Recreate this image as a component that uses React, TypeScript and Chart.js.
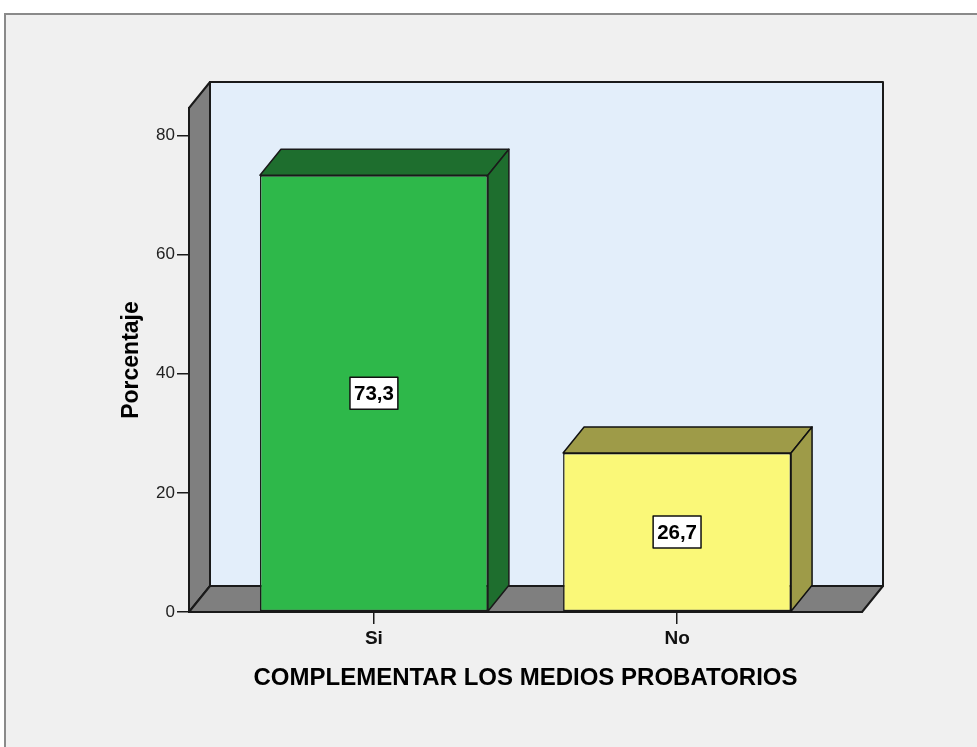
import React, { useEffect, useRef } from "react";
import { Chart, registerables } from "chart.js";

Chart.register(...registerables);

const categories = ["Si", "No"];
const values = [73.3, 26.7];
const yTicks = [0, 20, 40, 60, 80];
const yMax = 84.6;
const xMin = -0.61;
const xMax = 1.61;
const xTitle = "COMPLEMENTAR LOS MEDIOS PROBATORIOS";
const yTitle = "Porcentaje";

const frontColors = ["#2eb84a", "#faf878"];
const darkColors = ["#1e6e2e", "#9e9b48"];

const FONT = "'Liberation Sans', Arial, sans-serif";
const DX = 21;
const DY = -26;

function poly(ctx: CanvasRenderingContext2D, pts: number[][], fill: string) {
  ctx.beginPath();
  ctx.moveTo(pts[0][0], pts[0][1]);
  for (let i = 1; i < pts.length; i++) ctx.lineTo(pts[i][0], pts[i][1]);
  ctx.closePath();
  ctx.fillStyle = fill;
  ctx.fill();
  ctx.stroke();
}

const threeD = {
  id: "threeD",
  beforeDraw(chart: any) {
    const ctx = chart.ctx as CanvasRenderingContext2D;
    const w = chart.width;
    const h = chart.height;
    ctx.save();
    ctx.fillStyle = "#ffffff";
    ctx.fillRect(0, 0, w, h);
    ctx.fillStyle = "#f0f0f0";
    ctx.fillRect(5, 14, w - 5, h - 14);
    ctx.strokeStyle = "#8a8a8a";
    ctx.lineWidth = 2;
    ctx.beginPath();
    ctx.moveTo(5, h);
    ctx.lineTo(5, 14);
    ctx.lineTo(w, 14);
    ctx.stroke();
    ctx.restore();
  },
  beforeDatasetsDraw(chart: any) {
    const ctx = chart.ctx as CanvasRenderingContext2D;
    const { left, top, right, bottom } = chart.chartArea;
    ctx.save();
    ctx.strokeStyle = "#1a1a1a";
    ctx.lineWidth = 2;
    ctx.lineJoin = "round";
    // back wall
    poly(
      ctx,
      [
        [left + DX, top + DY],
        [right + DX, top + DY],
        [right + DX, bottom + DY],
        [left + DX, bottom + DY],
      ],
      "#e3eefa"
    );
    // left wall
    poly(
      ctx,
      [
        [left, top],
        [left + DX, top + DY],
        [left + DX, bottom + DY],
        [left, bottom],
      ],
      "#7f7f7f"
    );
    // floor
    poly(
      ctx,
      [
        [left, bottom],
        [left + DX, bottom + DY],
        [right + DX, bottom + DY],
        [right, bottom],
      ],
      "#7f7f7f"
    );
    ctx.restore();
  },
  afterDatasetsDraw(chart: any) {
    const ctx = chart.ctx as CanvasRenderingContext2D;
    const meta = chart.getDatasetMeta(0);
    ctx.save();
    ctx.strokeStyle = "#1a1a1a";
    ctx.lineWidth = 1.5;
    ctx.lineJoin = "round";
    meta.data.forEach((bar: any, i: number) => {
      const { x, y, base, width } = bar.getProps(["x", "y", "base", "width"], true);
      const x1 = x - width / 2;
      const x2 = x + width / 2;
      poly(
        ctx,
        [
          [x1, y],
          [x1 + DX, y + DY],
          [x2 + DX, y + DY],
          [x2, y],
        ],
        darkColors[i]
      );
      poly(
        ctx,
        [
          [x2, y],
          [x2 + DX, y + DY],
          [x2 + DX, base + DY],
          [x2, base],
        ],
        darkColors[i]
      );
      // value label
      const text = values[i].toFixed(1).replace(".", ",");
      ctx.font = `bold 20.5px ${FONT}`;
      const tw = ctx.measureText(text).width;
      const bw = tw + 8;
      const bh = 32;
      const cy = (y + base) / 2;
      ctx.fillStyle = "#ffffff";
      ctx.fillRect(x - bw / 2, cy - bh / 2, bw, bh);
      ctx.lineWidth = 1.5;
      ctx.strokeStyle = "#111111";
      ctx.strokeRect(x - bw / 2, cy - bh / 2, bw, bh);
      ctx.fillStyle = "#000000";
      ctx.textAlign = "center";
      ctx.textBaseline = "middle";
      ctx.fillText(text, x, cy + 1);
    });
    ctx.restore();
  },
};

export default function App() {
  const canvasRef = useRef<HTMLCanvasElement | null>(null);

  useEffect(() => {
    if (!canvasRef.current) return;
    const chart = new Chart(canvasRef.current, {
      type: "bar",
      data: {
        datasets: [
          {
            data: values.map((v, i) => ({ x: i, y: v })),
            backgroundColor: frontColors,
            borderColor: "#1a1a1a",
            borderWidth: 1.5,
            borderSkipped: false,
            barPercentage: 0.752,
            categoryPercentage: 1,
          },
        ],
      },
      options: {
        animation: false,
        responsive: true,
        maintainAspectRatio: false,
        devicePixelRatio: 1,
        layout: { padding: { left: 114, top: 108, right: 115, bottom: 50 } },
        plugins: {
          legend: { display: false },
          tooltip: { enabled: false },
        },
        scales: {
          x: {
            type: "linear",
            min: xMin,
            max: xMax,
            offset: false,
            afterBuildTicks: (s: any) => {
              s.ticks = categories.map((_, i) => ({ value: i }));
            },
            afterFit: (s: any) => {
              s.height = 85;
            },
            ticks: {
              callback: (v: any) => categories[Math.round(Number(v))] ?? "",
              color: "#111111",
              font: { family: FONT, size: 19, weight: "bold" },
              padding: 3,
              maxRotation: 0,
            },
            grid: {
              drawOnChartArea: false,
              drawTicks: true,
              tickLength: 12,
              color: "#1a1a1a",
              lineWidth: 1.5,
              offset: false,
            },
            border: { display: true, color: "#1a1a1a", width: 2 },
            title: {
              display: true,
              text: xTitle,
              color: "#000000",
              font: { family: FONT, size: 24, weight: "bold" },
              padding: { top: 4, bottom: 4 },
            },
          },
          y: {
            min: 0,
            max: yMax,
            afterBuildTicks: (s: any) => {
              s.ticks = yTicks.map((v) => ({ value: v }));
            },
            afterFit: (s: any) => {
              s.width = 75;
            },
            ticks: {
              color: "#222222",
              font: { family: FONT, size: 17 },
              padding: 2,
            },
            grid: {
              drawOnChartArea: false,
              drawTicks: true,
              tickLength: 12,
              color: "#1a1a1a",
              lineWidth: 1.5,
            },
            border: { display: true, color: "#1a1a1a", width: 2 },
            title: {
              display: true,
              text: yTitle,
              color: "#000000",
              font: { family: FONT, size: 23, weight: "bold" },
              padding: { top: 4, bottom: 4 },
            },
          },
        },
      },
      plugins: [threeD],
    });
    return () => chart.destroy();
  }, []);

  return (
    <div style={{ position: "fixed", left: 0, top: 0, width: 977, height: 747 }}>
      <canvas ref={canvasRef} />
    </div>
  );
}
